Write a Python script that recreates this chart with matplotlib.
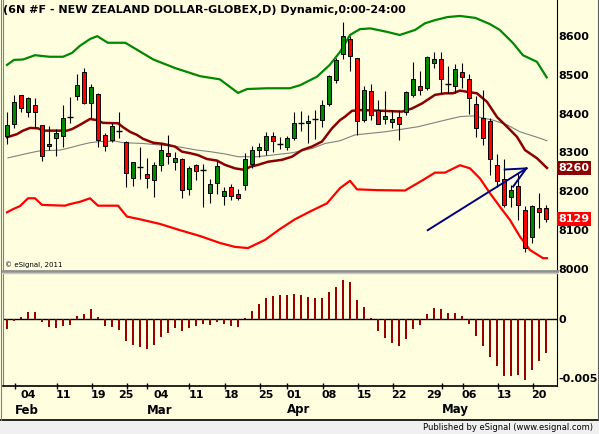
import matplotlib
matplotlib.use("Agg")
import matplotlib.pyplot as plt
from matplotlib.patches import Rectangle
from matplotlib.lines import Line2D
import matplotlib.transforms as mtransforms

# daily OHLC, bar 1 .. 78 (Feb - May 2011)
opens = [8341, 8372, 8447, 8403, 8421, 8370, 8316, 8336, 8341, 8390,
         8444, 8508, 8426, 8449, 8344, 8333, 8354, 8326, 8233, 8263,
         8244, 8228, 8267, 8298, 8275, 8282, 8205, 8267, 8255, 8195,
         8221, 8188, 8210, 8193, 8217, 8269, 8305, 8305, 8341, 8322,
         8315, 8336, 8376, 8375, 8385, 8383, 8424, 8485, 8552, 8591,
         8542, 8383, 8457, 8408, 8385, 8378, 8390, 8404, 8447, 8472,
         8465, 8531, 8539, 8476, 8472, 8506, 8490, 8424, 8388, 8382,
         8267, 8232, 8186, 8214, 8151, 8082, 8156, 8156]
highs = [8405, 8448, 8447, 8443, 8439, 8370, 8368, 8359, 8421, 8442,
         8502, 8517, 8475, 8453, 8349, 8375, 8404, 8329, 8275, 8314,
         8285, 8275, 8325, 8345, 8302, 8285, 8266, 8270, 8270, 8231,
         8278, 8212, 8218, 8205, 8298, 8316, 8325, 8352, 8352, 8340,
         8342, 8404, 8407, 8396, 8408, 8435, 8499, 8544, 8636, 8599,
         8544, 8472, 8476, 8435, 8459, 8409, 8409, 8459, 8532, 8509,
         8548, 8557, 8557, 8523, 8527, 8529, 8502, 8445, 8460, 8388,
         8296, 8282, 8215, 8246, 8163, 8166, 8195, 8164]
lows = [8321, 8364, 8403, 8390, 8364, 8279, 8306, 8292, 8315, 8376,
        8435, 8424, 8389, 8315, 8303, 8327, 8337, 8212, 8214, 8232,
        8208, 8186, 8251, 8270, 8255, 8183, 8190, 8229, 8160, 8169,
        8193, 8165, 8178, 8178, 8203, 8259, 8289, 8293, 8302, 8310,
        8306, 8332, 8356, 8323, 8334, 8366, 8419, 8478, 8539, 8510,
        8345, 8379, 8383, 8372, 8372, 8363, 8332, 8396, 8442, 8448,
        8460, 8516, 8453, 8453, 8452, 8465, 8400, 8339, 8319, 8242,
        8212, 8160, 8160, 8126, 8045, 8066, 8105, 8122]
closes = [8370, 8429, 8414, 8439, 8405, 8292, 8321, 8350, 8388, 8390,
          8473, 8426, 8467, 8331, 8316, 8367, 8354, 8246, 8275, 8263,
          8233, 8267, 8305, 8290, 8285, 8203, 8259, 8251, 8255, 8218,
          8264, 8201, 8189, 8182, 8283, 8306, 8314, 8341, 8329, 8322,
          8337, 8375, 8376, 8381, 8385, 8421, 8496, 8537, 8599, 8548,
          8381, 8460, 8396, 8372, 8393, 8386, 8372, 8455, 8488, 8460,
          8545, 8540, 8488, 8476, 8514, 8493, 8439, 8364, 8338, 8284,
          8226, 8164, 8203, 8166, 8053, 8162, 8146, 8129]

# oscillator histogram (lower pane)
osc = [-0.00082, -0.00014, 0.0002, 0.00062, 0.00062, -0.00023, -0.00065, -0.00073, -0.00056, -0.00048,
       0.00028, 0.00045, 0.00088, 0.0002, -0.00056, -0.00065, -0.0009, -0.00184, -0.00217, -0.00234,
       -0.00251, -0.00217, -0.0015, -0.00116, -0.00073, -0.00099, -0.00073, -0.00056, -0.0004, -0.00048,
       -0.00023, -0.0004, -0.00056, -0.00065, 0.00011, 0.00071, 0.0013, 0.00181, 0.00198, 0.00206,
       0.00206, 0.00215, 0.00206, 0.00189, 0.00181, 0.00181, 0.00232, 0.00274, 0.00333, 0.00316,
       0.00164, 0.00104, 0.00011, -0.00099, -0.00158, -0.002, -0.00226, -0.00167, -0.00082, -0.00048,
       0.00045, 0.00096, 0.00088, 0.00054, 0.00054, 0.00028, -0.0004, -0.00141, -0.00226, -0.00319,
       -0.00395, -0.0048, -0.0048, -0.00472, -0.00514, -0.00429, -0.00353, -0.00285]

# envelope / average lines (bar position, price)
upper_x = [1.0, 2.0, 3.3, 5.0, 7.1, 9.0, 10.3, 11.4, 12.9, 13.9, 15.4, 17.9, 21.9, 25.0, 28.6,
           31.4, 34.0, 35.3, 38.1, 41.4, 42.9, 45.3, 47.1, 48.6, 50.0, 51.4, 52.9, 55.3, 57.1,
           59.3, 60.7, 62.1, 63.9, 65.7, 67.9, 70.0, 71.4, 73.3, 74.7, 76.7, 78.1]
upper_y = [8525, 8538, 8539, 8550, 8546, 8546, 8556, 8574, 8592, 8599, 8582, 8582, 8539, 8517, 8496,
           8488, 8453, 8463, 8465, 8465, 8473, 8495, 8525, 8559, 8602, 8617, 8619, 8610, 8602,
           8615, 8632, 8640, 8648, 8651, 8646, 8630, 8615, 8581, 8550, 8533, 8493]

lower_x = [1.0, 1.86, 2.86, 4.0, 5.0, 6.0, 9.29, 10.0, 11.43, 12.86, 14.0, 16.86, 18.14, 20.0,
           22.86, 25.71, 28.57, 31.43, 33.57, 35.43, 37.86, 40.0, 42.14, 44.29, 46.71, 48.57,
           50.0, 51.0, 53.86, 57.86, 60.43, 62.14, 63.57, 65.71, 67.14, 68.57, 70.0, 71.43,
           72.86, 74.29, 75.71, 77.57, 78.14]
lower_y = [8146, 8154, 8162, 8182, 8182, 8165, 8163, 8167, 8173, 8182, 8163, 8163, 8135, 8128,
           8116, 8100, 8085, 8067, 8057, 8054, 8075, 8103, 8128, 8148, 8169, 8208,
           8227, 8205, 8203, 8202, 8229, 8248, 8248, 8267, 8259, 8233, 8195, 8160,
           8126, 8083, 8049, 8028, 8028]

ma_x = [1.0, 2.43, 3.29, 4.29, 5.43, 6.14, 9.57, 10.29, 11.43, 12.86, 13.86, 14.71, 16.86, 17.57,
        18.57, 19.57, 20.43, 21.86, 23.29, 25.0, 26.0, 27.14, 28.29, 29.57, 31.0, 32.14, 33.57,
        35.0, 35.71, 36.86, 38.29, 40.29, 41.71, 43.14, 44.57, 46.0, 47.43, 48.57, 49.29, 50.29,
        51.71, 57.43, 58.86, 60.29, 62.14, 63.57, 64.71, 65.71, 66.71, 68.14, 69.57, 71.0, 72.43,
        73.86, 75.0, 76.71, 78.14]
ma_y = [8339, 8347, 8356, 8363, 8362, 8356, 8356, 8360, 8371, 8386, 8383, 8376, 8375, 8365,
        8353, 8345, 8335, 8325, 8322, 8315, 8302, 8298, 8293, 8283, 8279, 8268, 8259,
        8255, 8263, 8268, 8276, 8281, 8289, 8306, 8315, 8328, 8362, 8383, 8392, 8407,
        8409, 8405, 8413, 8426, 8448, 8452, 8452, 8459, 8456, 8452, 8430, 8391, 8366,
        8340, 8306, 8285, 8260]

slow_x = [1.14, 2.86, 4.29, 5.71, 8.57, 10.0, 11.43, 12.86, 14.29, 16.43, 17.57, 20.43, 22.86,
          25.29, 28.14, 30.0, 32.14, 34.0, 36.86, 41.71, 44.57, 46.43, 48.57, 50.71, 55.0,
          59.71, 63.57, 65.71, 67.57, 70.43, 72.43, 74.29, 76.71, 78.14]
slow_y = [8286, 8293, 8299, 8304, 8306, 8312, 8319, 8325, 8328, 8329, 8325, 8323, 8319,
          8315, 8306, 8302, 8296, 8289, 8289, 8299, 8310, 8323, 8330, 8345, 8353,
          8366, 8383, 8392, 8394, 8383, 8371, 8353, 8339, 8330]

# hand-drawn trend arrow (bar position, price)
arrow_x = [61.1, 75.2]
arrow_y = [8100, 8259]
barbs_x = [[72.1, 75.2], [73.3, 75.2]]
barbs_y = [[8256, 8259], [8212, 8259]]

day_pos = [4, 9, 14, 18, 23, 28, 33, 38, 42, 47, 52, 57, 62, 67, 72, 77]
day_labels = ["04", "11", "19", "25", "04", "11", "18", "25", "01", "08", "15", "22", "29", "06", "13", "20"]
week_ticks = [2.1, 8.1, 13.1, 18.1, 21.0, 27.05, 32.1, 37.15, 41.05, 46.1, 51.1, 56.1, 63.1, 66.1, 71.1, 76.1]
month_pos = [2.1, 21.0, 41.05, 63.1]
month_labels = ["Feb", "Mar", "Apr", "May"]
price_ticks = [8000, 8100, 8200, 8300, 8400, 8500, 8600]

W, H = 599, 434
BG = "#FFFFE0"
GREEN = "#008800"
RED = "#FF0000"
DARKRED = "#8B0000"
FONT = "DejaVu Sans"


def main():
    fig = plt.figure(figsize=(W / 100, H / 100), dpi=100, facecolor=BG)

    ax1 = fig.add_axes([3 / W, (H - 271) / H, 554 / W, 271 / H], facecolor=BG)
    ax2 = fig.add_axes([3 / W, (H - 386) / H, 554 / W, 113 / H], facecolor=BG)

    bars = list(range(1, len(opens) + 1))

    # bands and averages
    ax1.plot(upper_x, upper_y, color=GREEN, lw=1.6, zorder=2)
    ax1.plot(lower_x, lower_y, color=RED, lw=1.6, zorder=2)
    ax1.plot(slow_x, slow_y, color="#808080", lw=0.8, zorder=2)
    ax1.plot(ma_x, ma_y, color=DARKRED, lw=1.8, zorder=2)

    # candles
    ax1.vlines(bars, lows, highs, color="black", lw=0.8, zorder=3)
    for x, o, c in zip(bars, opens, closes):
        if o == c:
            ax1.hlines(o, x - 0.36, x + 0.36, color="black", lw=1.0, zorder=4)
        else:
            col = GREEN if c > o else RED
            ax1.bar(x, abs(c - o), bottom=min(o, c), width=0.62, color=col,
                    edgecolor="black", linewidth=0.7, zorder=4)

    # trend arrow
    ax1.plot(arrow_x, arrow_y, color="#000080", lw=1.4, zorder=5)
    for bx, by in zip(barbs_x, barbs_y):
        ax1.plot(bx, by, color="#000080", lw=1.4, zorder=5)

    ax1.set_xlim(3 / 7, 557 / 7)
    ax1.set_ylim(7995, 8692)
    ax1.yaxis.tick_right()
    ax1.set_yticks(price_ticks)
    ax1.set_yticklabels([str(p) for p in price_ticks])
    ax1.tick_params(axis="y", length=0, pad=1, labelsize=8)
    ax1.set_xticks([])
    for lab in ax1.get_yticklabels():
        lab.set_fontweight("bold")
        lab.set_fontfamily(FONT)

    # last value flags
    trans = mtransforms.blended_transform_factory(ax1.transAxes, ax1.transData)
    ax1.text(1.003, ma_y[-1], str(ma_y[-1]), transform=trans, color="white", fontsize=8,
             fontweight="bold", family=FONT, va="center", ha="left", zorder=10,
             bbox=dict(boxstyle="square,pad=0.15", fc=DARKRED, ec="none"))
    ax1.text(1.003, closes[-1], str(closes[-1]), transform=trans, color="white", fontsize=8,
             fontweight="bold", family=FONT, va="center", ha="left", zorder=10,
             bbox=dict(boxstyle="square,pad=0.15", fc=RED, ec="none"))

    ax1.text(0.004, 0.012, "\u00a9 eSignal, 2011", transform=ax1.transAxes, fontsize=5,
             family=FONT, va="bottom", ha="left")

    ax1.spines["top"].set_visible(False)
    ax1.spines["left"].set_color("#808080")
    ax1.spines["right"].set_color("black")
    ax1.spines["bottom"].set_color("#909090")
    ax1.spines["bottom"].set_linewidth(2.0)

    # oscillator
    ax2.bar(bars, osc, width=0.32, color="#990000", zorder=3)
    ax2.axhline(0, color="black", lw=1.0, zorder=2)
    ax2.set_xlim(3 / 7, 557 / 7)
    ax2.set_ylim(-0.00565, 0.00392)
    ax2.yaxis.tick_right()
    ax2.set_yticks([-0.005, 0])
    ax2.set_yticklabels(["-0.005", "0"])
    ax2.tick_params(axis="y", length=0, pad=1, labelsize=8)
    ax2.set_xticks(day_pos)
    ax2.set_xticklabels(day_labels)
    ax2.tick_params(axis="x", length=0, pad=3, labelsize=8)
    ax2.set_xticks(week_ticks, minor=True)
    ax2.tick_params(axis="x", which="minor", length=4, direction="inout", width=1)
    for lab in ax2.get_yticklabels() + ax2.get_xticklabels():
        lab.set_fontweight("bold")
        lab.set_fontfamily(FONT)
    ax2.spines["top"].set_color("#C8C8C8")
    ax2.spines["top"].set_linewidth(1.0)
    ax2.spines["left"].set_color("#808080")
    ax2.spines["right"].set_color("black")
    ax2.spines["bottom"].set_color("black")
    ax2.spines["bottom"].set_linewidth(1.2)

    tr2 = mtransforms.blended_transform_factory(ax2.transData, fig.transFigure)
    for pos, lab in zip(month_pos, month_labels):
        ax2.text(pos, (H - 410) / H, lab, transform=tr2, fontsize=8.5, fontweight="bold",
                 family=FONT, ha="left", va="center")

    # title
    fig.text(3 / W, (H - 10) / H, "(6N #F - NEW ZEALAND DOLLAR-GLOBEX,D) Dynamic,0:00-24:00",
             fontsize=8, fontweight="bold", family=FONT, ha="left", va="center")

    # footer strip
    fig.patches.append(Rectangle((0, 0), 1, 14 / H, transform=fig.transFigure,
                                 facecolor="#F0F0F0", edgecolor="none", zorder=0))
    fig.lines.append(Line2D([0, 1], [14 / H, 14 / H], transform=fig.transFigure,
                            color="black", lw=1.2))
    fig.lines.append(Line2D([597.5 / W, 597.5 / W], [14 / H, 1], transform=fig.transFigure,
                            color="#606060", lw=0.8))
    fig.lines.append(Line2D([0.8 / W, 0.8 / W], [14 / H, 1], transform=fig.transFigure,
                            color="#808080", lw=0.8))
    fig.text(593 / W, 7 / H, "Published by eSignal (www.esignal.com)", fontsize=6.0,
             family=FONT, ha="right", va="center")

    fig.savefig("out.png", dpi=100, facecolor=BG)
    plt.close(fig)


if __name__ == "__main__":
    main()
